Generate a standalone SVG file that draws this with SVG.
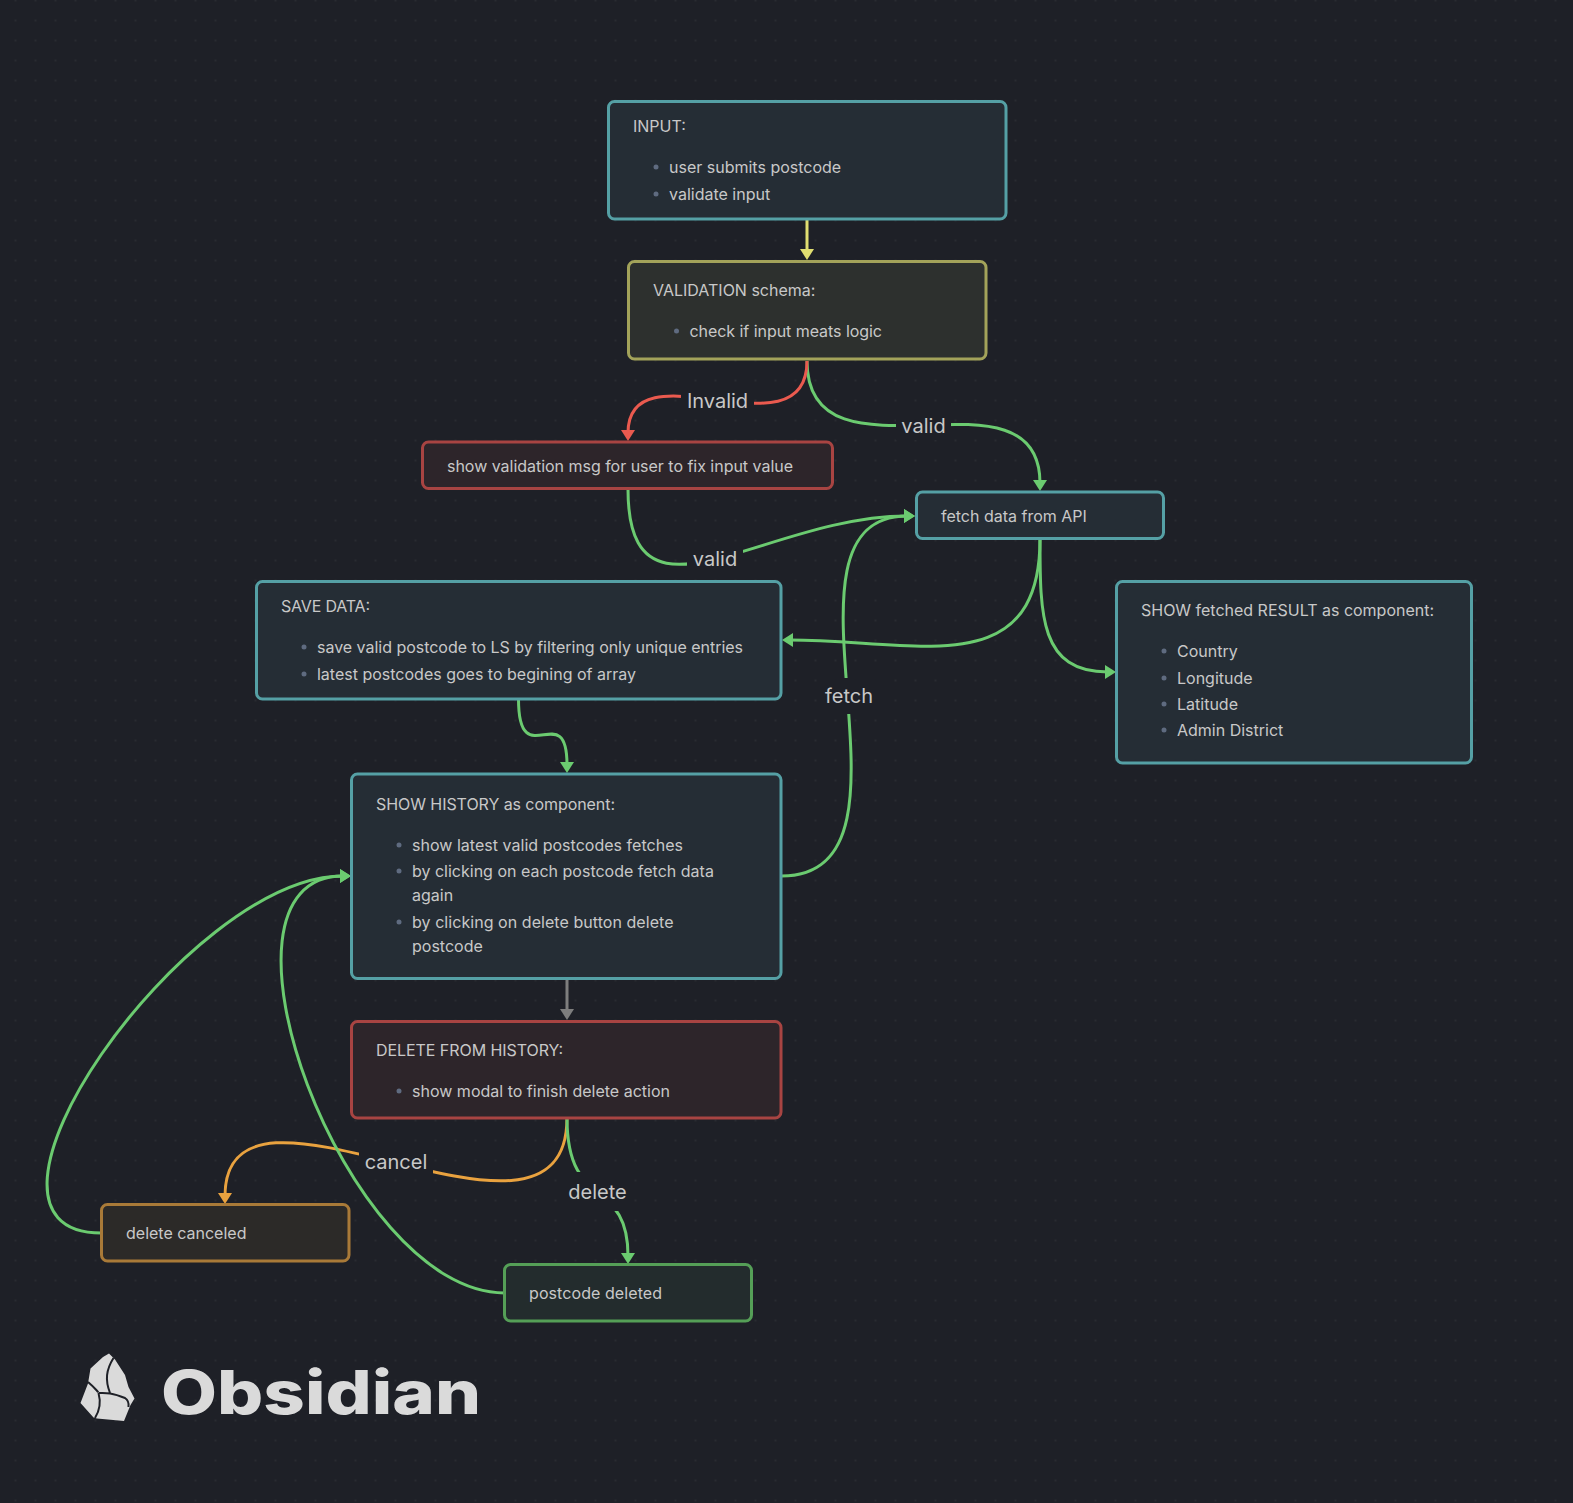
<svg xmlns="http://www.w3.org/2000/svg" width="1573" height="1503" viewBox="0 0 1573 1503">
<defs>
<pattern id="dots" width="20" height="20" patternUnits="userSpaceOnUse" x="5.5" y="-9.5"><circle cx="10" cy="10" r="0.8" fill="#36383c"/></pattern>
<marker id="ag" markerUnits="userSpaceOnUse" markerWidth="14" markerHeight="14" viewBox="0 0 11 14" refX="3" refY="7" orient="auto"><path d="M0,0L11,7L0,14Z" fill="#6bcb70"/></marker>
<marker id="ay" markerUnits="userSpaceOnUse" markerWidth="14" markerHeight="14" viewBox="0 0 11 14" refX="3" refY="7" orient="auto"><path d="M0,0L11,7L0,14Z" fill="#e0de71"/></marker>
<marker id="ar" markerUnits="userSpaceOnUse" markerWidth="14" markerHeight="14" viewBox="0 0 11 14" refX="3" refY="7" orient="auto"><path d="M0,0L11,7L0,14Z" fill="#ea5a4f"/></marker>
<marker id="ao" markerUnits="userSpaceOnUse" markerWidth="14" markerHeight="14" viewBox="0 0 11 14" refX="3" refY="7" orient="auto"><path d="M0,0L11,7L0,14Z" fill="#e9a23f"/></marker>
<marker id="ak" markerUnits="userSpaceOnUse" markerWidth="14" markerHeight="14" viewBox="0 0 11 14" refX="3" refY="7" orient="auto"><path d="M0,0L11,7L0,14Z" fill="#7e7e7e"/></marker>
</defs>
<style>
text{font-family:Inter,"Liberation Sans",sans-serif}
.t{font-size:16px;fill:#c8c8c8}
.l{font-size:20px;fill:#c8c8c8;text-anchor:middle}
.b{fill:#5f6b80}
rect.n{stroke-width:3}
.teal{fill:#252d35;stroke:#55a0a5}
.yel{fill:#2d302e;stroke:#a3a35a}
.red{fill:#2d252a;stroke:#a84442}
.ora{fill:#2c2a28;stroke:#a97a38}
.gre{fill:#232c2d;stroke:#559f57}
.e{fill:none;stroke-width:3}
.eg{stroke:#6bcb70;marker-end:url(#ag)}
.ey{stroke:#e0de71;marker-end:url(#ay)}
.er{stroke:#ea5a4f;marker-end:url(#ar)}
.eo{stroke:#e9a23f;marker-end:url(#ao)}
.ek{stroke:#7e7e7e;marker-end:url(#ak)}
.g{fill:#1e2027}
</style>
<rect width="1573" height="1503" fill="#1e2027"/>
<rect width="1573" height="1503" fill="url(#dots)"/>
<g id="connectors">
<path class="e ey" d="M807,220V252"/>
<path class="e eg" d="M807,361C807,494 1040,358 1040,483"/>
<path class="e er" d="M807,361C807,459 628,343 628,433"/>
<path class="e eg" d="M628,489C628,641 764,516 907,516"/>
<path class="e eg" d="M1040,539C1040,684 915,640 790,640"/>
<path class="e eg" d="M1040,539C1040,616 1040,672 1108,672"/>
<path class="e eg" d="M518.500,699C518.500,776 567,696 567,765"/>
<path class="e eg" d="M781.500,876C939,876 758,516 907,516"/>
<path class="e ek" d="M567,979V1012"/>
<path class="e eo" d="M567,1118C567,1288 225,1042 225,1196"/>
<path class="e eg" d="M567,1118C567,1213 628,1176 628,1256"/>
<path class="e eg" d="M101.500,1233C-64,1233 186,876 343,876"/>
<path class="e eg" d="M504.500,1293C345,1293 192,876 343,876"/>
<rect class="g" x="681" y="388" width="73" height="28"/><text class="l" x="717.500" y="408">Invalid</text>
<rect class="g" x="896" y="412" width="55" height="28"/><text class="l" x="923.500" y="433">valid</text>
<rect class="g" x="687" y="545" width="56" height="28"/><text class="l" x="715" y="566">valid</text>
<rect class="g" x="818" y="678" width="62" height="36"/><text class="l" x="849" y="703">fetch</text>
<rect class="g" x="359" y="1145" width="74" height="34"/><text class="l" x="396" y="1169">cancel</text>
<rect class="g" x="562" y="1172" width="72" height="39"/><text class="l" x="597.500" y="1199">delete</text>
</g>
<g id="input"><rect class="n teal" x="608.500" y="101.500" width="397.500" height="117.500" rx="6"/><text class="t" x="633" y="132">INPUT:</text><circle class="b" cx="656" cy="167" r="2.500"/><text class="t" x="669" y="173">user submits postcode</text><circle class="b" cx="656" cy="194" r="2.500"/><text class="t" x="669" y="200">validate input</text></g>
<g id="validation"><rect class="n yel" x="628.500" y="261.500" width="357.500" height="97.500" rx="6"/><text class="t" x="653" y="296">VALIDATION schema:</text><circle class="b" cx="676.500" cy="331" r="2.500"/><text class="t" x="689.500" y="337" textLength="192.500">check if input meats logic</text></g>
<g id="msg"><rect class="n red" x="422.500" y="442" width="410" height="46.500" rx="6"/><text class="t" x="447" y="472" textLength="346">show validation msg for user to fix input value</text></g>
<g id="fetch"><rect class="n teal" x="916.500" y="492" width="247" height="46.500" rx="6"/><text class="t" x="941" y="522">fetch data from API</text></g>
<g id="save"><rect class="n teal" x="256.500" y="581.500" width="524.500" height="117.500" rx="6"/><text class="t" x="281" y="611.500" textLength="89">SAVE DATA:</text><circle class="b" cx="304" cy="647" r="2.500"/><text class="t" x="317" y="653" textLength="426">save valid postcode to LS by filtering only unique entries</text><circle class="b" cx="304" cy="674" r="2.500"/><text class="t" x="317" y="680" textLength="319">latest postcodes goes to begining of array</text></g>
<g id="result"><rect class="n teal" x="1116.500" y="581.500" width="355" height="181.500" rx="6"/><text class="t" x="1141" y="616" textLength="293">SHOW fetched RESULT as component:</text><circle class="b" cx="1164" cy="651" r="2.500"/><text class="t" x="1177" y="657">Country</text><circle class="b" cx="1164" cy="678" r="2.500"/><text class="t" x="1177" y="684">Longitude</text><circle class="b" cx="1164" cy="704" r="2.500"/><text class="t" x="1177" y="710">Latitude</text><circle class="b" cx="1164" cy="730" r="2.500"/><text class="t" x="1177" y="736">Admin District</text></g>
<g id="history"><rect class="n teal" x="351.500" y="774" width="429.500" height="204.500" rx="6"/><text class="t" x="376" y="810" textLength="239">SHOW HISTORY as component:</text><circle class="b" cx="399" cy="845" r="2.500"/><text class="t" x="412" y="851" textLength="271">show latest valid postcodes fetches</text><circle class="b" cx="399" cy="871" r="2.500"/><text class="t" x="412" y="877">by clicking on each postcode fetch data</text><text class="t" x="412" y="901">again</text><circle class="b" cx="399" cy="922" r="2.500"/><text class="t" x="412" y="928" textLength="261.500">by clicking on delete button delete</text><text class="t" x="412" y="952">postcode</text></g>
<g id="delete"><rect class="n red" x="351.500" y="1021.500" width="429.500" height="96.500" rx="6"/><text class="t" x="376" y="1055.500" textLength="187">DELETE FROM HISTORY:</text><circle class="b" cx="399" cy="1091" r="2.500"/><text class="t" x="412" y="1097" textLength="258">show modal to finish delete action</text></g>
<g id="canceled"><rect class="n ora" x="101.500" y="1204.500" width="247.500" height="56.500" rx="6"/><text class="t" x="126" y="1239">delete canceled</text></g>
<g id="deleted"><rect class="n gre" x="504.500" y="1264.500" width="247" height="56.500" rx="6"/><text class="t" x="529" y="1299" textLength="133">postcode deleted</text></g>
<g id="logo"><path d="M109,1353.500L115,1359.500L125,1375L128.500,1387L134.500,1398.500L130.500,1405L124,1421L97,1418.500L93.500,1417.500L80.500,1403L88,1383.500L90.500,1368.500L103,1357Z" fill="#dadada"/><path d="M113.500,1358C106,1370 105,1380 110,1393M88,1382C95,1388 99,1393 98.500,1393C105,1393 110,1392 125,1398C128,1400 129,1403 128.500,1407M98.500,1393C101,1402 100,1410 95,1418" fill="none" stroke="#1e2027" stroke-width="2"/><text x="161" y="1414" font-size="60" font-weight="800" fill="#dadada" textLength="320" lengthAdjust="spacingAndGlyphs">Obsidian</text></g>
</svg>
